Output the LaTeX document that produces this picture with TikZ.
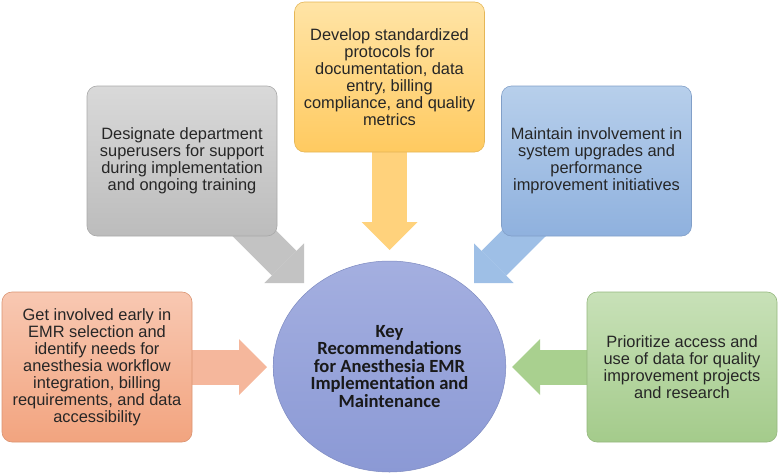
\documentclass[tikz,border=0pt]{standalone}
\usepackage{fontspec}
\setmainfont{Liberation Sans}
\newfontfamily\keyfont{Carlito}
\usetikzlibrary{arrows.meta,shapes.geometric,backgrounds}

\definecolor{gettop}{HTML}{F8C8B2}
\definecolor{getbot}{HTML}{F2A47F}
\definecolor{getarr}{HTML}{F5B79C}
\definecolor{destop}{HTML}{D9D9D9}
\definecolor{desbot}{HTML}{BCBCBC}
\definecolor{desarr}{HTML}{C3C3C3}
\definecolor{devtop}{HTML}{FFE4A6}
\definecolor{devbot}{HTML}{FFCA60}
\definecolor{devarr}{HTML}{FFD27C}
\definecolor{maitop}{HTML}{B7CFEB}
\definecolor{maibot}{HTML}{8FB1DE}
\definecolor{maiarr}{HTML}{9EBFE6}
\definecolor{pritop}{HTML}{C8E1B8}
\definecolor{pribot}{HTML}{A4CB8B}
\definecolor{priarr}{HTML}{A9D08F}
\definecolor{keytop}{HTML}{A4AFE0}
\definecolor{keybot}{HTML}{8B99D5}

\begin{document}
\begin{tikzpicture}[x=1pt,y=-1pt,
  recbox/.style={rectangle,rounded corners=10pt,minimum width=190pt,minimum height=150pt,
    align=center,text=black!85,line width=0.6pt,font=\fontsize{16.4}{17}\selectfont},
  fatarrow/.style={line width=35pt,-{Triangle[length=28pt,width=56pt,line width=0pt]}}]
\useasboundingbox (0,0) rectangle (779,474);

\node[ellipse,minimum width=225pt,minimum height=211pt,top color=keytop,bottom color=keybot,
  draw=keybot!90!black,line width=0.5pt,align=center,text=black!90,
  font=\keyfont\bfseries\fontsize{18.6}{17.5}\selectfont] (key) at (389.5,366.5)
  {Key\\Recommendations\\for Anesthesia EMR\\Implementation and\\Maintenance};

\node[recbox,top color=gettop,bottom color=getbot,draw=getbot!90!black] (get) at (97,367)
  {Get involved early in\\EMR selection and\\identify needs for\\anesthesia workflow\\integration, billing\\requirements, and data\\accessibility};
\node[recbox,top color=destop,bottom color=desbot,draw=desbot!90!black] (desig) at (182,161)
  {Designate department\\superusers for support\\during implementation\\and ongoing training};
\node[recbox,top color=devtop,bottom color=devbot,draw=devbot!90!black] (devel) at (389.5,77)
  {Develop standardized\\protocols for\\documentation, data\\entry, billing\\compliance, and quality\\metrics};
\node[recbox,top color=maitop,bottom color=maibot,draw=maibot!90!black] (maint) at (596.5,161)
  {Maintain involvement in\\system upgrades and\\performance\\improvement initiatives};
\node[recbox,top color=pritop,bottom color=pribot,draw=pribot!90!black] (prior) at (682,367)
  {Prioritize access and\\use of data for quality\\improvement projects\\and research};

\coordinate (tipget) at (267,367);
\coordinate (tipdesig) at (304,283);
\coordinate (tipdevel) at (389.5,250);
\coordinate (tipmaint) at (474,283);
\coordinate (tipprior) at (512,367);

\begin{pgfonlayer}{background}
\draw[fatarrow,getarr] (get.center) -- (tipget);
\draw[fatarrow,desarr] (desig.center) -- (tipdesig);
\draw[fatarrow,devarr] (devel.center) -- (tipdevel);
\draw[fatarrow,maiarr] (maint.center) -- (tipmaint);
\draw[fatarrow,priarr] (prior.center) -- (tipprior);
\end{pgfonlayer}
\end{tikzpicture}
\end{document}
